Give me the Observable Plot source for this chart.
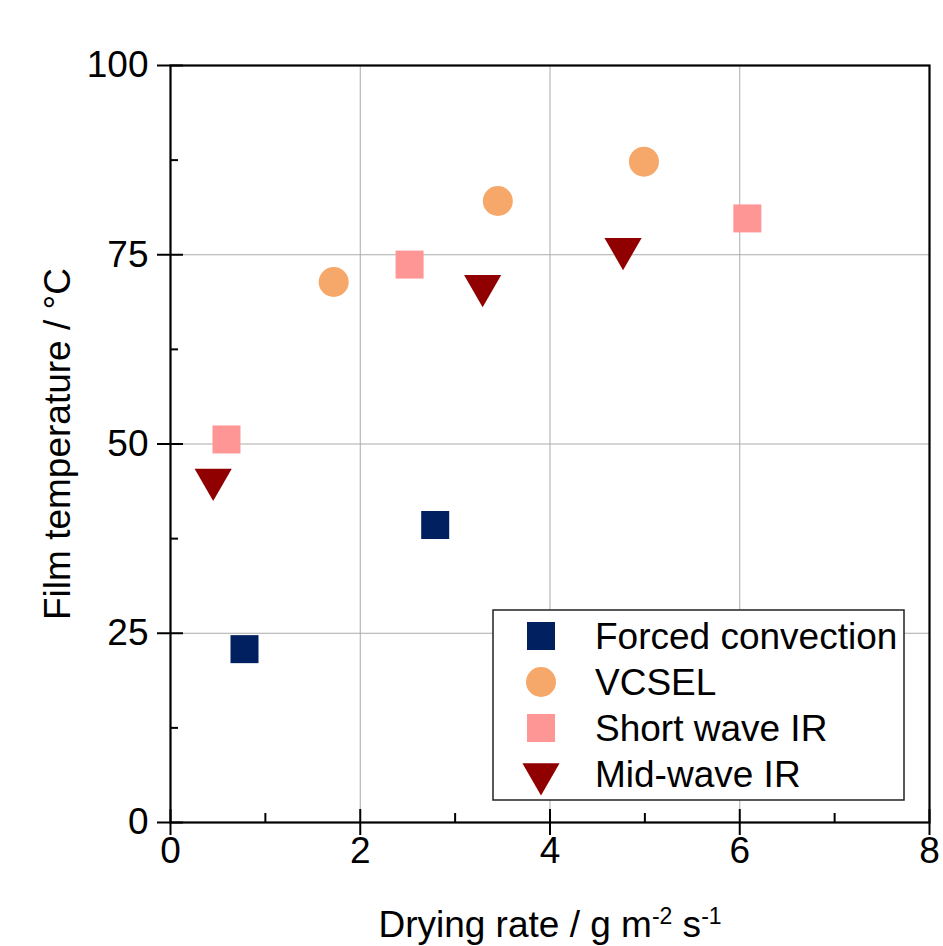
<!DOCTYPE html>
<html><head><meta charset="utf-8">
<script src="https://cdn.jsdelivr.net/npm/d3@7"></script>
<script src="https://cdn.jsdelivr.net/npm/@observablehq/plot@0.6"></script>
<style>
body{margin:0;background:#fff}
svg{font-family: Arial, "Liberation Sans", sans-serif}
</style>
</head><body><div id="chart"></div>
<script>
// ---- data ----
const seriesNames = ["Forced convection", "VCSEL", "Short wave IR", "Mid-wave IR"];
const seriesColors = ["#002060", "#f6a86b", "#ff9696", "#900000"];
const seriesSymbols = ["square", "circle", "square", "triangle"];

const forcedX = [0.78, 2.79];
const forcedY = [22.9, 39.3];
const vcselX = [1.72, 3.45, 4.99];
const vcselY = [71.4, 82.1, 87.3];
const shortX = [0.59, 2.52, 6.08];
const shortY = [50.6, 73.7, 79.8];
const midX = [0.45, 3.29, 4.77];
const midY = [45.3, 70.9, 75.8];

const xMajor = [0, 2, 4, 6, 8];
const xMinor = [1, 3, 5, 7];
const yMajor = [0, 25, 50, 75, 100];
const yMinor = [12.5, 37.5, 62.5, 87.5];
const xTitle = "Drying rate / g m-2 s-1";
const yTitle = "Film temperature / °C";

// ---- build table ----
const xs = [forcedX, vcselX, shortX, midX];
const ys = [forcedY, vcselY, shortY, midY];
const rows = [];
xs.forEach((arr, i) => arr.forEach((x, j) => rows.push({series: seriesNames[i], x, y: ys[i][j]})));

const sizeR = {"square": 15.8, "circle": 15, "triangle": 13.8};
const FS = 37;

const dotsFor = (i) => Plot.dot(rows.filter(d => d.series === seriesNames[i]), {
  x: "x", y: "y", symbol: () => seriesSymbols[i], r: sizeR[seriesSymbols[i]],
  fill: seriesColors[i], stroke: "none", rotate: seriesSymbols[i] === "triangle" ? 180 : 0
});

const W = 943, H = 946;
const plot = Plot.plot({
  width: W, height: H,
  marginLeft: 170, marginRight: 14, marginTop: 65, marginBottom: 124,
  style: {fontFamily: "Arial, 'Liberation Sans', sans-serif", background: "white", color: "black"},
  x: {domain: [0, 8]},
  y: {domain: [0, 100]},
  symbol: {type: "identity"},
  marks: [
    Plot.gridX(xMajor.slice(1, -1), {stroke: "#ababab", strokeOpacity: 1, strokeWidth: 1}),
    Plot.gridY(yMajor.slice(1, -1), {stroke: "#ababab", strokeOpacity: 1, strokeWidth: 1}),
    // x axis: outward major ticks with labels
    Plot.axisX({ticks: xMajor, tickSize: 13, tickPadding: 1, fontSize: FS, label: null, strokeWidth: 2, tickFormat: d => String(d)}),
    Plot.axisX({ticks: xMajor, tickSize: 13, dy: -13, fill: "none", label: null, strokeWidth: 2}),
    Plot.axisX({ticks: xMinor, tickSize: 9, dy: -9, fill: "none", label: null, strokeWidth: 2}),
    // y axis
    Plot.axisY({ticks: yMajor, tickSize: 13, tickPadding: 9, fontSize: FS, label: null, strokeWidth: 2, tickFormat: d => String(d)}),
    Plot.axisY({ticks: yMajor, tickSize: 13, dx: 13, fill: "none", label: null, strokeWidth: 2}),
    Plot.axisY({ticks: yMinor, tickSize: 8, dx: 8, fill: "none", label: null, strokeWidth: 2}),
    Plot.frame({stroke: "black", strokeWidth: 2.2}),
    dotsFor(0), dotsFor(1), dotsFor(2), dotsFor(3),
    Plot.text([xTitle], {frameAnchor: "bottom", dy: 103, fontSize: FS, lineAnchor: "middle", textAnchor: "middle"}),
    Plot.text([yTitle], {frameAnchor: "left", dx: -112, rotate: -90, fontSize: FS, lineAnchor: "middle", textAnchor: "middle"})
  ]
});
document.getElementById("chart").appendChild(plot);

const svg = d3.select(plot);
// superscripts in the x title
svg.selectAll("text").filter(function() { return this.textContent === xTitle; }).each(function() {
  const t = d3.select(this);
  t.text(null);
  t.append("tspan").text("Drying rate / g m");
  t.append("tspan").attr("dy", "-13").attr("font-size", 23).text("-2");
  t.append("tspan").attr("dy", "13").text(" s");
  t.append("tspan").attr("dy", "-13").attr("font-size", 23).text("-1");
});

// legend
const lg = svg.append("g").attr("class", "legend").attr("text-anchor", "start");
lg.append("rect").attr("x", 493).attr("y", 610).attr("width", 411).attr("height", 190)
  .attr("fill", "white").attr("stroke", "#222").attr("stroke-width", 1.5);
const symMap = {square: d3.symbolSquare, circle: d3.symbolCircle, triangle: d3.symbolTriangle};
seriesNames.forEach((name, i) => {
  const cy = 636 + i * 46;
  const s = seriesSymbols[i];
  const r = sizeR[s];
  lg.append("path")
    .attr("d", d3.symbol(symMap[s], Math.PI * r * r)())
    .attr("transform", `translate(541,${cy})` + (s === "triangle" ? " rotate(180)" : ""))
    .attr("fill", seriesColors[i]);
  lg.append("text").attr("x", 595).attr("y", cy).attr("dy", "0.35em")
    .attr("text-anchor", "start")
    .attr("font-size", FS).attr("fill", "black").text(name);
});
</script>
</body></html>
